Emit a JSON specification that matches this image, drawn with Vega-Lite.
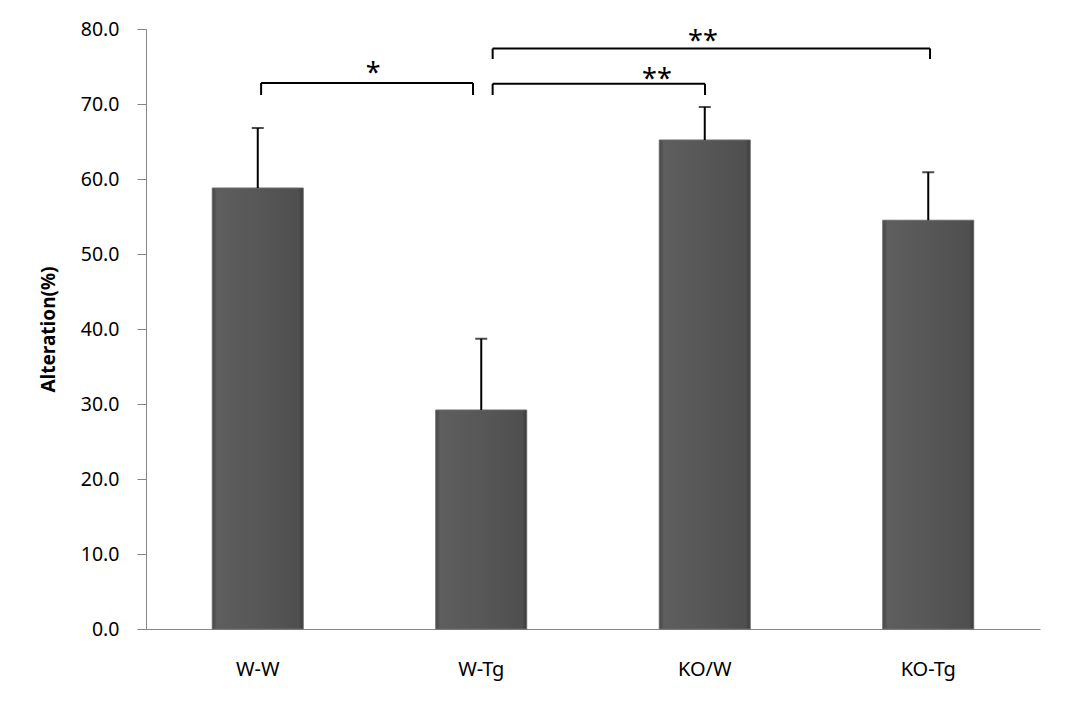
{
  "$schema": "https://vega.github.io/schema/vega-lite/v6.json",
  "width": 894,
  "height": 600,
  "autosize": "none",
  "padding": {"left": 146, "top": 29, "right": 25, "bottom": 82},
  "background": "white",
  "config": {
    "view": {"stroke": null},
    "font": "Noto Sans",
    "axisY": {
      "grid": false,
      "domainColor": "#868686",
      "tickColor": "#868686",
      "tickSize": 9,
      "labelFontSize": 19.5,
      "labelColor": "#000000",
      "labelPadding": 18,
      "labelFont": "Noto Sans",
      "titleFontSize": 19,
      "titleFontWeight": "bold",
      "titleColor": "#000000",
      "titlePadding": 22,
      "titleFont": "Noto Sans"
    },
    "axisX": {
      "grid": false,
      "domainColor": "#868686",
      "ticks": false,
      "labelFontSize": 20,
      "labelColor": "#000000",
      "labelPadding": 30,
      "labelAngle": 0,
      "labelFont": "Noto Sans",
      "title": null
    }
  },
  "datasets": {
    "bars": [
      {"group": "W-W", "mean": 58.8, "upper": 66.8},
      {"group": "W-Tg", "mean": 29.2, "upper": 38.7},
      {"group": "KO/W", "mean": 65.2, "upper": 69.6},
      {"group": "KO-Tg", "mean": 54.5, "upper": 60.9}
    ],
    "brackets": [
      {"x": 0.515, "x2": 1.463, "y": 72.8, "yLow": 71.2},
      {"x": 1.551, "x2": 2.501, "y": 72.7, "yLow": 71.2},
      {"x": 1.551, "x2": 3.508, "y": 77.4, "yLow": 76.0}
    ],
    "stars": [
      {"x": 1.016, "y": 72.9, "label": "*"},
      {"x": 2.286, "y": 72.2, "label": "**"},
      {"x": 2.492, "y": 77.2, "label": "**"}
    ]
  },
  "layer": [
    {
      "data": {"name": "bars"},
      "encoding": {
        "x": {
          "field": "group",
          "type": "nominal",
          "sort": null,
          "scale": {"paddingInner": 0, "paddingOuter": 0}
        }
      },
      "layer": [
        {
          "mark": {
            "type": "bar",
            "width": {"band": 0.407},
            "stroke": "#6a6a6a",
            "strokeWidth": 1,
            "color": {
              "gradient": "linear",
              "x1": 0, "x2": 1, "y1": 0, "y2": 0,
              "stops": [
                {"offset": 0, "color": "#444444"},
                {"offset": 0.05, "color": "#5e5e5e"},
                {"offset": 0.5, "color": "#575757"},
                {"offset": 0.95, "color": "#4f4f4f"},
                {"offset": 1, "color": "#3a3a3a"}
              ]
            }
          },
          "encoding": {
            "y": {
              "field": "mean",
              "type": "quantitative",
              "title": "Alteration(%)",
              "scale": {"domain": [0, 80], "nice": false},
              "axis": {"values": [0, 10, 20, 30, 40, 50, 60, 70, 80], "format": ".1f"}
            }
          }
        },
        {
          "mark": {"type": "rule", "color": "#000000", "strokeWidth": 2},
          "encoding": {
            "y": {"field": "mean", "type": "quantitative", "title": "Alteration(%)"},
            "y2": {"field": "upper"}
          }
        },
        {
          "mark": {"type": "tick", "color": "#000000", "size": 12, "thickness": 2},
          "encoding": {
            "y": {"field": "upper", "type": "quantitative", "title": "Alteration(%)"}
          }
        }
      ]
    },
    {
      "data": {"name": "brackets"},
      "layer": [
        {
          "mark": {"type": "rule", "color": "#000000", "strokeWidth": 2},
          "encoding": {
            "x": {"field": "x", "type": "quantitative", "scale": {"domain": [0, 4], "nice": false, "zero": false}, "axis": null},
            "x2": {"field": "x2"},
            "y": {"field": "y", "type": "quantitative", "title": "Alteration(%)"}
          }
        },
        {
          "mark": {"type": "rule", "color": "#000000", "strokeWidth": 2},
          "encoding": {
            "x": {"field": "x", "type": "quantitative", "scale": {"domain": [0, 4], "nice": false, "zero": false}, "axis": null},
            "y": {"field": "y", "type": "quantitative", "title": "Alteration(%)"},
            "y2": {"field": "yLow"}
          }
        },
        {
          "mark": {"type": "rule", "color": "#000000", "strokeWidth": 2},
          "encoding": {
            "x": {"field": "x2", "type": "quantitative", "scale": {"domain": [0, 4], "nice": false, "zero": false}, "axis": null},
            "y": {"field": "y", "type": "quantitative", "title": "Alteration(%)"},
            "y2": {"field": "yLow"}
          }
        }
      ]
    },
    {
      "data": {"name": "stars"},
      "mark": {"type": "text", "fontSize": 27, "color": "#000000", "baseline": "alphabetic", "align": "center", "font": "Noto Sans"},
      "encoding": {
        "x": {"field": "x", "type": "quantitative", "scale": {"domain": [0, 4], "nice": false, "zero": false}, "axis": null},
        "y": {"field": "y", "type": "quantitative", "title": "Alteration(%)"},
        "text": {"field": "label"}
      }
    }
  ],
  "resolve": {"scale": {"x": "independent"}}
}
